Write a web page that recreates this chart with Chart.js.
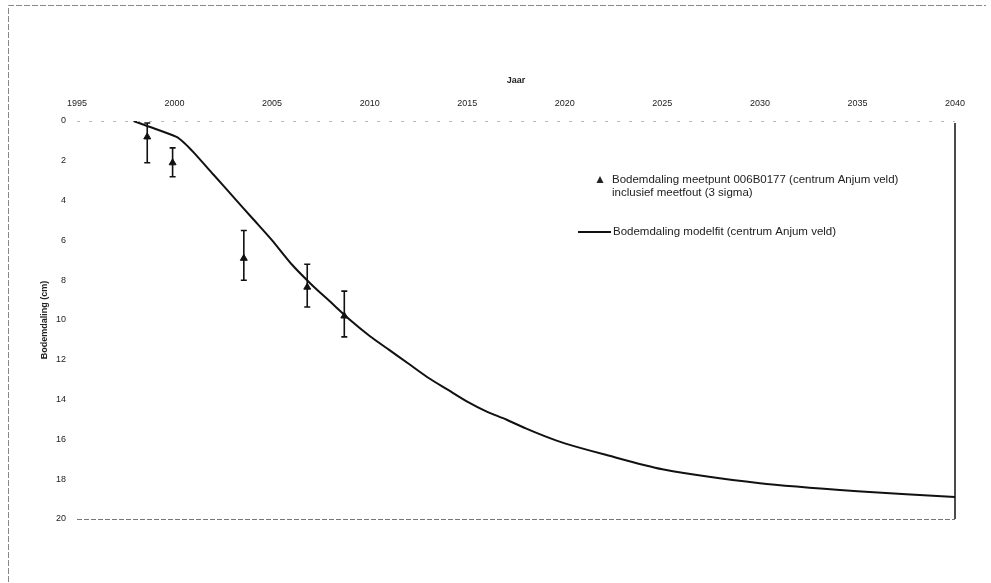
<!DOCTYPE html>
<html>
<head>
<meta charset="utf-8">
<script src="https://cdn.jsdelivr.net/npm/chart.js@4/dist/chart.umd.min.js"></script>
<style>
  html, body { margin: 0; padding: 0; background: #fff; }
  #wrap { width: 991px; height: 583px; position: relative; }
</style>
</head>
<body>
<div id="wrap"><canvas id="c" width="991" height="583"></canvas></div>
<script>
// ---- data ----
const xTicks = [1995, 2000, 2005, 2010, 2015, 2020, 2025, 2030, 2035, 2040];
const yTicks = [0, 2, 4, 6, 8, 10, 12, 14, 16, 18, 20];

const measYears = [1998.6, 1999.9, 2003.55, 2006.8, 2008.7];
const measValues = [0.8, 2.1, 6.9, 8.35, 9.8];
const measLow = [0.1, 1.35, 5.5, 7.2, 8.55];
const measHigh = [2.1, 2.8, 8.0, 9.35, 10.85];

const modelYears = [1997.9, 1998.6, 2000.1, 2000.5, 2001, 2002, 2003, 2004, 2005, 2006, 2007, 2008, 2009, 2010,
  2011, 2012, 2013, 2014, 2015, 2016, 2017, 2018, 2019, 2020, 2022, 2025, 2030, 2035, 2040];
const modelValues = [0, 0.25, 0.8, 1.1, 1.6, 2.7, 3.8, 4.9, 6.0, 7.2, 8.2, 9.1, 10.0, 10.8,
  11.5, 12.2, 12.9, 13.5, 14.1, 14.6, 15.0, 15.45, 15.85, 16.2, 16.75, 17.5, 18.2, 18.6, 18.9];

const seriesNames = [
  ['Bodemdaling meetpunt 006B0177 (centrum Anjum veld)', 'inclusief meetfout (3 sigma)'],
  ['Bodemdaling modelfit (centrum Anjum veld)']
];
const xTitle = 'Jaar';
const yTitle = 'Bodemdaling (cm)';

// ---- chart ----
const FONT = '"Liberation Sans", Arial, sans-serif';

const errorBars = {
  id: 'errorBars',
  afterDatasetsDraw(chart) {
    const ctx = chart.ctx, xs = chart.scales.x, ys = chart.scales.y;
    ctx.save();
    ctx.strokeStyle = '#111';
    ctx.lineWidth = 1.6;
    measYears.forEach((yr, i) => {
      const px = xs.getPixelForValue(yr);
      const p1 = ys.getPixelForValue(measLow[i]);
      const p2 = ys.getPixelForValue(measHigh[i]);
      ctx.beginPath();
      ctx.moveTo(px, p1); ctx.lineTo(px, p2);
      ctx.moveTo(px - 3, p1); ctx.lineTo(px + 3, p1);
      ctx.moveTo(px - 3, p2); ctx.lineTo(px + 3, p2);
      ctx.stroke();
    });
    ctx.restore();
  }
};

const frame = {
  id: 'frame',
  beforeDraw(chart) {
    const ctx = chart.ctx;
    ctx.save();
    ctx.fillStyle = '#fff';
    ctx.fillRect(0, 0, chart.width, chart.height);
    ctx.strokeStyle = '#888';
    ctx.lineWidth = 1;
    ctx.setLineDash([6, 2]);
    ctx.beginPath();
    ctx.moveTo(8.5, 582); ctx.lineTo(8.5, 5.5); ctx.lineTo(986, 5.5);
    ctx.stroke();
    ctx.restore();
  },
  afterDatasetsDraw(chart) {
    const ctx = chart.ctx, a = chart.chartArea;
    ctx.save();
    ctx.strokeStyle = '#777';
    ctx.lineWidth = 1;
    ctx.setLineDash([5, 2]);
    ctx.beginPath(); ctx.moveTo(a.left, a.bottom + 0.5); ctx.lineTo(a.right, a.bottom + 0.5); ctx.stroke();
    ctx.strokeStyle = '#bbb';
    ctx.setLineDash([3, 9]);
    ctx.beginPath(); ctx.moveTo(a.left, a.top + 0.5); ctx.lineTo(a.right, a.top + 0.5); ctx.stroke();
    ctx.setLineDash([]);
    ctx.strokeStyle = '#111';
    ctx.lineWidth = 1.5;
    ctx.beginPath(); ctx.moveTo(a.right, a.top + 2); ctx.lineTo(a.right, a.bottom); ctx.stroke();
    ctx.restore();
  }
};

const customLegend = {
  id: 'customLegend',
  afterDraw(chart) {
    const ctx = chart.ctx;
    ctx.save();
    ctx.fillStyle = '#222';
    ctx.font = '11.5px ' + FONT;
    ctx.textBaseline = 'middle';
    ctx.textAlign = 'left';
    ctx.beginPath();
    ctx.moveTo(600, 176); ctx.lineTo(603.5, 183); ctx.lineTo(596.5, 183); ctx.closePath();
    ctx.fill();
    ctx.fillText(seriesNames[0][0], 612, 180);
    ctx.fillText(seriesNames[0][1], 612, 193);
    ctx.strokeStyle = '#111';
    ctx.lineWidth = 2;
    ctx.beginPath(); ctx.moveTo(578, 232); ctx.lineTo(611, 232); ctx.stroke();
    ctx.fillText(seriesNames[1][0], 613, 232);
    ctx.restore();
  }
};

new Chart(document.getElementById('c'), {
  type: 'line',
  data: {
    datasets: [
      {
        label: seriesNames[1][0],
        data: modelYears.map((x, i) => ({ x, y: modelValues[i] })),
        borderColor: '#111',
        borderWidth: 2,
        pointRadius: 0,
        tension: 0.25,
        fill: false,
        order: 2
      },
      {
        label: seriesNames[0].join(' '),
        data: measYears.map((x, i) => ({ x, y: measValues[i] })),
        showLine: false,
        pointStyle: 'triangle',
        pointRadius: 4,
        backgroundColor: '#111',
        borderColor: '#111',
        order: 1
      }
    ]
  },
  options: {
    responsive: false,
    animation: false,
    devicePixelRatio: 1,
    layout: { padding: { left: 39, right: 36, top: 75, bottom: 64 } },
    plugins: { legend: { display: false }, tooltip: { enabled: false } },
    scales: {
      x: {
        type: 'linear',
        position: 'top',
        min: 1995, max: 2040,
        afterBuildTicks(s) { s.ticks = xTicks.map(v => ({ value: v })); },
        afterFit(s) { s.height = 121 - 75; },
        grid: { display: false, drawTicks: false },
        border: { display: false },
        ticks: { color: '#222', font: { family: FONT, size: 9 }, padding: 12, maxRotation: 0, callback: v => String(v) },
        title: { display: true, text: xTitle, color: '#222', font: { family: FONT, size: 9, weight: 'bold' }, padding: { top: 0, bottom: 2 } }
      },
      y: {
        type: 'linear',
        reverse: true,
        min: 0, max: 20,
        afterBuildTicks(s) { s.ticks = yTicks.map(v => ({ value: v })); },
        afterFit(s) { s.width = 77 - 39; },
        grid: { display: false, drawTicks: false },
        border: { display: false },
        ticks: { color: '#222', font: { family: FONT, size: 9 }, padding: 11, callback: v => String(v) },
        title: { display: true, text: yTitle, color: '#222', font: { family: FONT, size: 9, weight: 'bold' }, padding: { top: 0, bottom: 2 } }
      }
    }
  },
  plugins: [frame, errorBars, customLegend]
});
</script>
</body>
</html>
